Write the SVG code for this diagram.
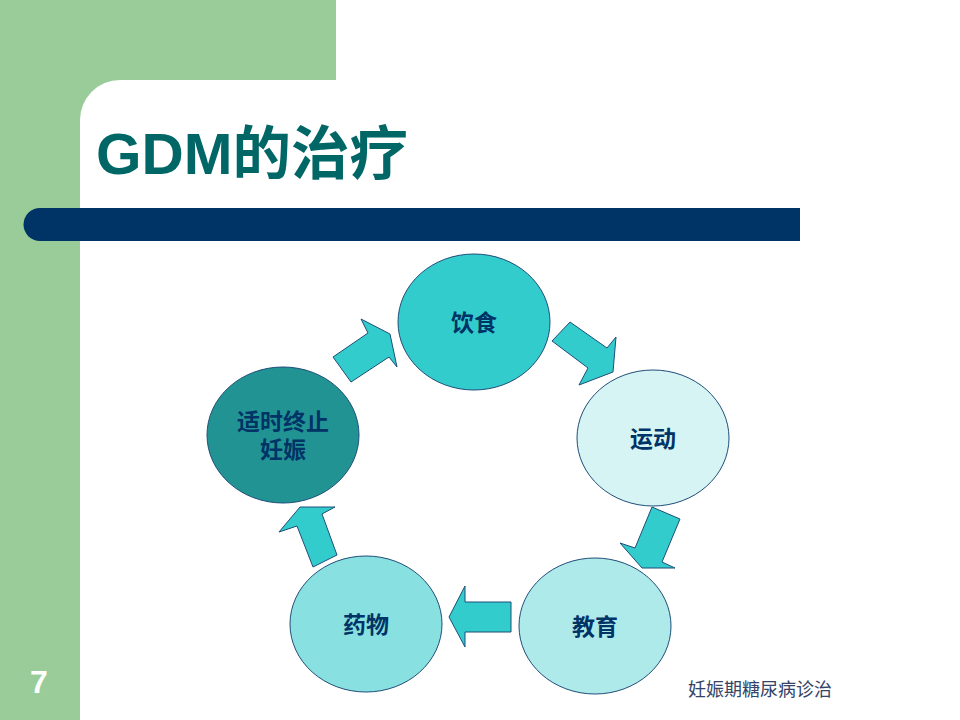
<svg xmlns="http://www.w3.org/2000/svg" width="960" height="720" viewBox="0 0 960 720">
<style>
.node{stroke:#1F4E79;stroke-width:1}
.lbl{font-family:"Liberation Sans","Noto Sans CJK SC",sans-serif;font-weight:bold;font-size:23px;fill:#003366;text-anchor:middle}
.arrow{fill:#33CCCC;stroke:#1F4E79;stroke-width:1;stroke-linejoin:miter}
</style>
<rect width="960" height="720" fill="#FFFFFF"/>
<g id="background">
<rect x="0" y="0" width="336" height="80" fill="#99CC99"/>
<rect x="0" y="0" width="80" height="720" fill="#99CC99"/>
<path d="M80 80 H120 A40 40 0 0 0 80 120 Z" fill="#99CC99"/>
<path d="M40 208 H800 V241 H40 A16.5 16.5 0 0 1 40 208 Z" fill="#003366"/>
</g>
<text id="title" x="96" y="174" font-family="Liberation Sans,'Noto Sans CJK SC',sans-serif" font-weight="bold" font-size="58" fill="#006666" textLength="312" lengthAdjust="spacingAndGlyphs">GDM的治疗</text>
<g id="connectors">
<polygon class="arrow" points="333,357 368,333 361,319 390,334 397,367 389,357 351,382"/>
<polygon class="arrow" points="570,322 607,348 616,337 613,372 579,385 588,368 552,341"/>
<polygon class="arrow" points="652,507 680,519 662,562 675,568 642,568 620,543 635,548"/>
<polygon class="arrow" points="511,602 465,602 465,586 449,617 465,647 465,632 511,632"/>
<polygon class="arrow" points="313,567 337,555 322,514 335,507 300,507 279,532 297,526"/>
</g>
<g id="node-diet">
<ellipse class="node" cx="474" cy="322" rx="76" ry="68" fill="#33CCCC"/>
<text class="lbl" x="474" y="331">饮食</text>
</g>
<g id="node-exercise">
<ellipse class="node" cx="653" cy="438" rx="76" ry="68" fill="#D6F4F4"/>
<text class="lbl" x="653" y="447">运动</text>
</g>
<g id="node-education">
<ellipse class="node" cx="595" cy="626" rx="76" ry="68" fill="#AEEAEA"/>
<text class="lbl" x="595" y="635">教育</text>
</g>
<g id="node-medicine">
<ellipse class="node" cx="366" cy="624" rx="76" ry="68" fill="#88E0E0"/>
<text class="lbl" x="366" y="633">药物</text>
</g>
<g id="node-termination">
<ellipse class="node" cx="283" cy="435" rx="76" ry="68" fill="#229393"/>
<text class="lbl" x="283" y="430">适时终止</text>
<text class="lbl" x="283" y="458">妊娠</text>
</g>
<text id="page-number" x="39" y="693" font-family="Liberation Sans,sans-serif" font-weight="bold" font-size="32" fill="#FFFFFF" text-anchor="middle">7</text>
<text id="footer" x="760" y="696" font-family="'Noto Sans CJK SC',sans-serif" font-size="18" fill="#334466" text-anchor="middle">妊娠期糖尿病诊治</text>
</svg>
